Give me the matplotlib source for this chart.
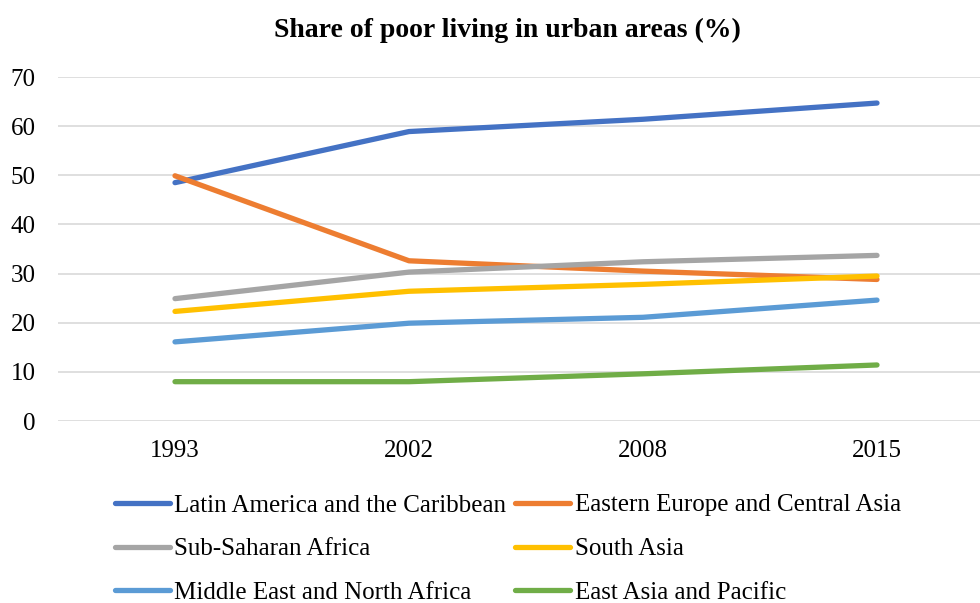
import matplotlib
matplotlib.use("Agg")
import matplotlib.pyplot as plt

years = ["1993", "2002", "2008", "2015"]
latin_america = [48.5, 58.9, 61.4, 64.7]
eastern_europe = [49.9, 32.6, 30.5, 28.8]
sub_saharan = [24.9, 30.3, 32.4, 33.7]
south_asia = [22.3, 26.4, 27.8, 29.5]
mena = [16.1, 19.9, 21.1, 24.6]
east_asia = [8.0, 8.0, 9.6, 11.4]

series = [
    ("Latin America and the Caribbean", latin_america, "#4472C4"),
    ("Eastern Europe and Central Asia", eastern_europe, "#ED7D31"),
    ("Sub-Saharan Africa", sub_saharan, "#A5A5A5"),
    ("South Asia", south_asia, "#FFC000"),
    ("Middle East and North Africa", mena, "#5B9BD5"),
    ("East Asia and Pacific", east_asia, "#70AD47"),
]

plt.rcParams['font.family'] = ['Liberation Serif', 'DejaVu Serif']

fig = plt.figure(figsize=(9.8, 6.03), dpi=100)
ax = fig.add_axes([58/980, 1-421/603, 936/980, (421-77)/603])

x = range(len(years))
lines = []
for name, vals, col in series:
    ln, = ax.plot(x, vals, color=col, lw=3.8, label=name, solid_capstyle='round')
    lines.append(ln)

ax.set_xlim(-0.5, 3.5)
ax.set_ylim(0, 70)
ax.set_yticks(range(0, 71, 10))
ax.set_xticks(list(x))
ax.set_xticklabels(years)
ax.grid(axis='y', color='#D9D9D9', lw=1.2)
ax.set_axisbelow(True)
for s in ax.spines.values():
    s.set_visible(False)
ax.tick_params(length=0, labelsize=18, colors='#000000')
ax.tick_params(axis='x', pad=14)
ax.tick_params(axis='y', pad=16)

fig.text(0.518, 1-30/603, "Share of poor living in urban areas (%)", ha='center', va='center',
         fontsize=20, fontweight='bold')

# legend is filled row by row in the reference
order = [0, 2, 4, 1, 3, 5]
fig.legend([lines[i] for i in order], [series[i][0] for i in order],
           loc='center left', bbox_to_anchor=(102/980, 1-549/603), ncol=2, frameon=False,
           fontsize=18, handlelength=2.2, handletextpad=0.2, columnspacing=0.35,
           labelspacing=0.85, borderpad=0)

fig.savefig("out.png", dpi=100)
